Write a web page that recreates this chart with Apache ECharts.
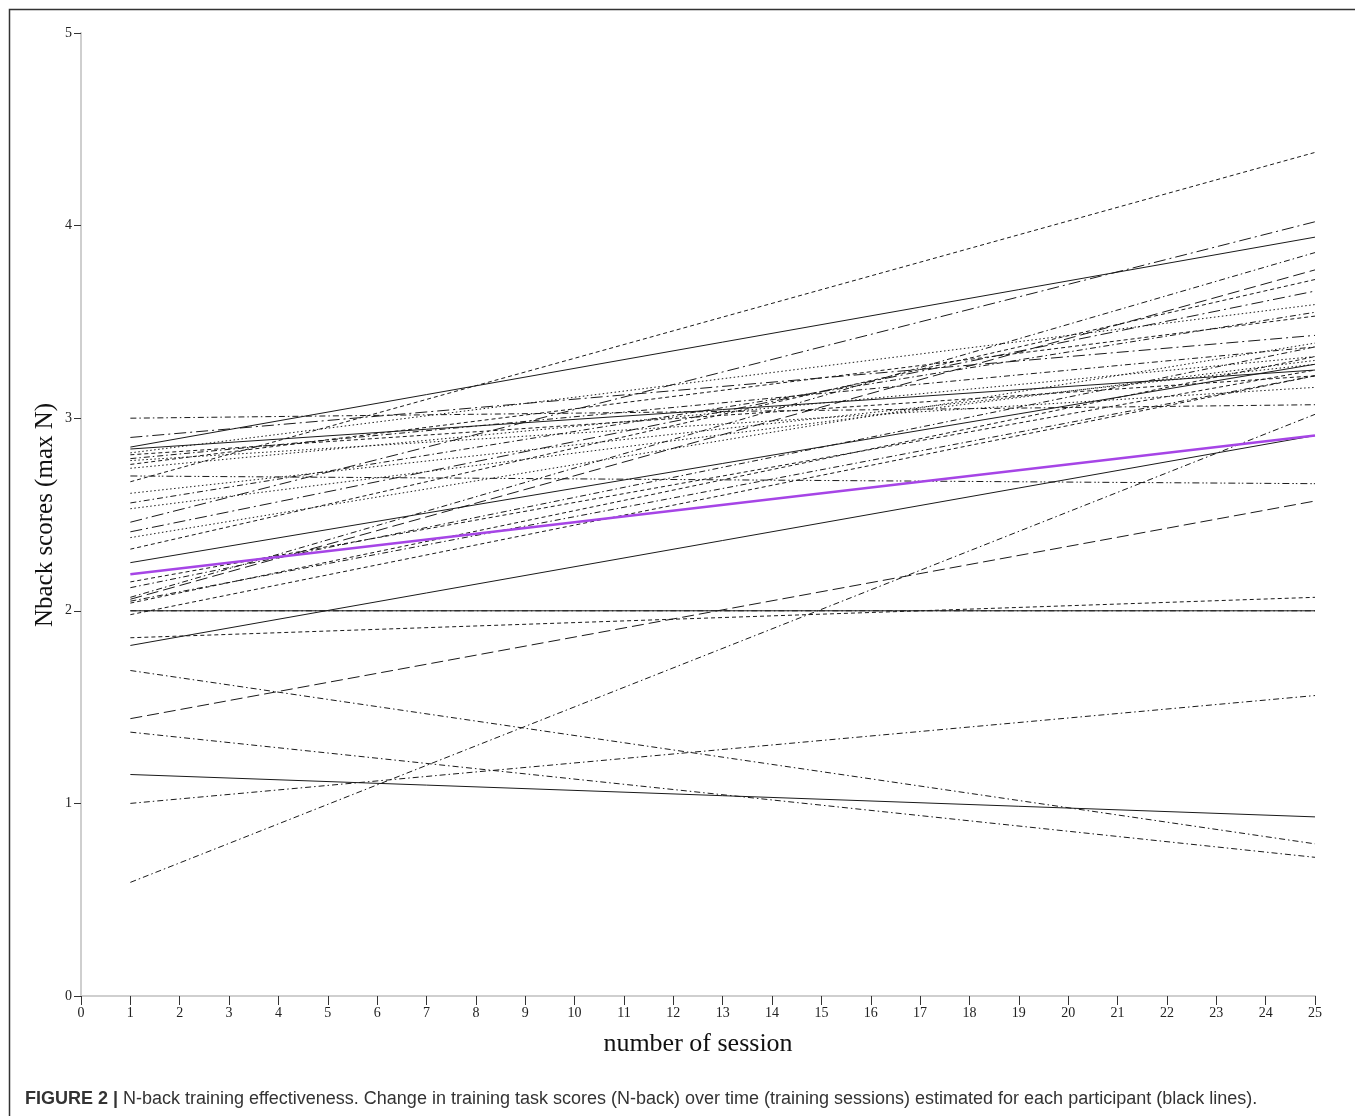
<!DOCTYPE html>
<html>
<head>
<meta charset="utf-8">
<script src="https://cdn.jsdelivr.net/npm/echarts@6/dist/echarts.min.js"></script>
<style>
html,body{margin:0;padding:0;background:#fff;}
#chart{width:1355px;height:1116px;}
</style>
</head>
<body>
<div id="chart"></div>
<script>
// Sessions at which each participant's fitted line starts and ends
var sessionStart = 1;
var sessionEnd = 25;
// Estimated N-back score at session 1 for each participant
var startScores = [3.00, 2.90, 2.85, 2.84, 2.82, 2.81, 2.79, 2.78, 2.76, 2.74,
                   2.70, 2.67, 2.61, 2.56, 2.53, 2.46, 2.41, 2.38, 2.32, 2.25,
                   2.15, 2.12, 2.07, 2.06, 2.05, 2.04, 2.00, 2.00, 1.98, 1.86,
                   1.82, 1.69, 1.44, 1.37, 1.15, 1.00, 0.59];
// Estimated N-back score at session 25 for each participant
var endScores   = [3.07, 3.43, 3.94, 3.25, 3.59, 3.22, 3.37, 3.16, 3.53, 3.32,
                   2.66, 4.38, 3.28, 3.55, 3.30, 4.02, 3.66, 3.39, 3.72, 3.28,
                   3.25, 3.37, 3.86, 3.77, 3.22, 3.32, 2.00, 2.00, 3.22, 2.07,
                   2.91, 0.79, 2.57, 0.72, 0.93, 1.56, 3.02];
// Group (mean) line
var meanStart = 2.19;
var meanEnd = 2.91;
// Axis ticks
var xTicks = [0,1,2,3,4,5,6,7,8,9,10,11,12,13,14,15,16,17,18,19,20,21,22,23,24,25];
var yTicks = [0,1,2,3,4,5];
var yAxisTitle = 'Nback scores (max N)';

// line dash styles per participant (style only)
var dashKinds = ['dashdot','longdashdot','solid','solid','dotted','dashed','dashdot','dotted','dashed','dotted',
                 'dashdotdot','dashed','dotted','dashdot','dotted','longdashdot','longdashdot','dotted','dashed','solid',
                 'dashed','dashdot','dashdot','longdash','dashdot','dashed','solid','dashdot','dashed','dashed',
                 'solid','dashdot','longdash','dashdot','solid','dashdot','dashdot'];
var dashMap = {
  solid: 'solid',
  dashed: [4, 3],
  dotted: [1.5, 2.5],
  dashdot: [6, 3, 1.5, 3],
  longdashdot: [12, 4, 2, 4],
  dashdotdot: [7, 3, 1.5, 2, 1.5, 3],
  longdash: [12, 5]
};

var serif = '"Liberation Serif", "DejaVu Serif", serif';
var series = [];
for (var i = 0; i < startScores.length; i++) {
  series.push({
    type: 'line',
    data: [[sessionStart, startScores[i]], [sessionEnd, endScores[i]]],
    symbol: 'none',
    silent: true,
    z: 2,
    lineStyle: { color: '#1a1a1a', width: 1, type: dashMap[dashKinds[i]] }
  });
}
series.push({
  type: 'line',
  data: [[sessionStart, meanStart], [sessionEnd, meanEnd]],
  symbol: 'none',
  silent: true,
  z: 5,
  lineStyle: { color: '#a645e6', width: 2.5, type: 'solid' }
});

var chart = echarts.init(document.getElementById('chart'), null, { renderer: 'canvas' });
chart.setOption({
  animation: false,
  backgroundColor: '#fff',
  grid: { left: 81, right: 40, top: 33, bottom: 120, containLabel: false },
  xAxis: {
    type: 'value',
    min: xTicks[0], max: xTicks[xTicks.length - 1], interval: 1,
    name: 'number of session',
    nameLocation: 'middle',
    nameGap: 35,
    nameTextStyle: { fontFamily: serif, fontSize: 26, color: '#111' },
    axisLine: { show: true, lineStyle: { color: '#cfcfcf', width: 2 } },
    axisTick: { show: true, inside: false, length: 9, lineStyle: { color: '#333', width: 1 } },
    axisLabel: { fontFamily: serif, fontSize: 14, color: '#222', margin: 10 },
    splitLine: { show: false }
  },
  yAxis: {
    type: 'value',
    min: yTicks[0], max: yTicks[yTicks.length - 1], interval: 1,
    axisLine: { show: true, lineStyle: { color: '#cfcfcf', width: 2 } },
    axisTick: { show: true, inside: false, length: 7, lineStyle: { color: '#333', width: 1 } },
    axisLabel: { fontFamily: serif, fontSize: 14, color: '#222', margin: 9 },
    splitLine: { show: false }
  },
  series: series,
  graphic: [
    {
      type: 'rect',
      left: 7, top: 7,
      shape: { x: 0, y: 0, width: 1400, height: 1200 },
      style: { fill: 'none', stroke: '#333', lineWidth: 1.5 },
      silent: true, z: -1
    },
    {
      type: 'text',
      x: 45, y: 515,
      rotation: Math.PI / 2,
      style: {
        text: yAxisTitle,
        fontFamily: serif,
        fontSize: 25,
        fill: '#111',
        align: 'center',
        verticalAlign: 'middle'
      }
    },
    {
      type: 'text',
      left: 25, top: 1090,
      style: {
        text: '{b|FIGURE 2 |} N-back training effectiveness. Change in training task scores (N-back) over time (training sessions) estimated for each participant (black lines).',
        fontFamily: '"Liberation Sans", Arial, sans-serif',
        fontSize: 18,
        fill: '#333',
        rich: {
          b: { fontFamily: '"Liberation Sans", Arial, sans-serif', fontSize: 18, fontWeight: 'bold', fill: '#333' }
        }
      }
    }
  ]
});
</script>
</body>
</html>
